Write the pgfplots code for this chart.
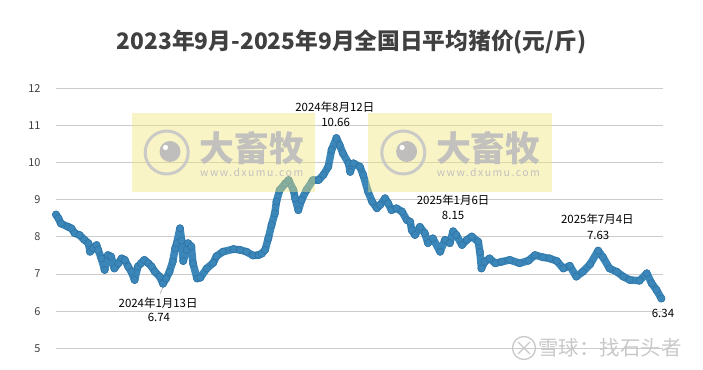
\documentclass[border=0pt]{standalone}
\usepackage{fontspec}
\setmainfont{Noto Sans CJK SC}
\usepackage{pgfplots}
\pgfplotsset{compat=1.18}
\definecolor{ptblue}{RGB}{59,135,186}
\definecolor{ptedge}{RGB}{46,112,160}
\definecolor{gridgray}{RGB}{204,204,204}
\definecolor{ticktext}{RGB}{64,64,64}
\definecolor{titletext}{RGB}{64,64,64}
\definecolor{wmyellow}{RGB}{240,228,120}
\definecolor{wmgray}{RGB}{188,188,188}
\definecolor{xqgray}{RGB}{200,200,200}
\newcommand\wm[1]{%
\begin{scope}[xshift=#1]
\fill[wmyellow, opacity=0.42] (131.7bp,178.3bp) rectangle (315bp,256.7bp);
\draw[wmgray!85, line width=3bp, opacity=0.9] (166.7bp,217.5bp) circle (21.5bp);
\fill[wmgray, opacity=0.95] (170bp,218.5bp) circle (10.5bp);
\fill[white] (165.5bp,222.5bp) circle (2.6bp);
\node[text=wmgray, font=\fontsize{35}{35}\selectfont\bfseries, inner sep=0pt, opacity=0.9] at (251.7bp,221.7bp) {大畜牧};
\node[text=wmgray, font=\fontsize{10.5}{11}\selectfont\addfontfeature{LetterSpace=14}, inner sep=0pt, opacity=0.9] at (251.7bp,197.3bp) {www.dxumu.com};
\end{scope}}
\begin{document}
\begin{tikzpicture}
\path[use as bounding box] (0,0) rectangle (703bp,370bp);
\begin{axis}[
  at={(56bp,21.7bp)}, anchor=south west,
  scale only axis, width=607bp, height=260bp,
  xmin=0, xmax=749, ymin=5, ymax=12,
  xtick=\empty, ytick={5,6,...,12},
  ymajorgrids, grid style={draw=gridgray, line width=0.9bp},
  axis line style={draw=none}, major tick length=0pt,
  yticklabel style={font=\fontsize{11}{13}\selectfont, text=ticktext, xshift=-12bp},
  /pgf/number format/assume math mode=true,
  clip=false,
]
\addplot[line width=7.5bp, color=ptblue, line join=round, line cap=round,
  mark=*, mark size=3.7bp, mark options={fill=ptblue, draw=ptedge, line width=0.5bp}]
table {
0 8.60
3 8.50
6 8.36
15 8.27
19 8.23
23 8.10
29 8.05
35 7.92
40 7.83
42 7.60
46 7.69
50 7.78
52 7.65
56 7.42
60 7.11
64 7.51
68 7.47
72 7.15
77 7.29
81 7.42
85 7.38
89 7.20
93 7.06
97 6.84
101 7.20
105 7.29
109 7.38
114 7.29
118 7.20
122 7.06
128 6.93
132 6.74
136 6.88
140 7.06
144 7.33
147 7.69
149 7.83
153 8.23
155 7.90
157 7.35
161 7.65
163 7.83
167 7.74
169 7.29
174 6.88
178 6.90
186 7.15
194 7.30
198 7.48
206 7.60
219 7.67
227 7.65
235 7.60
243 7.50
250 7.51
254 7.55
258 7.65
262 7.96
266 8.32
270 8.63
272 8.95
276 9.26
283 9.44
287 9.53
293 9.26
295 9.04
299 8.72
303 8.99
309 9.26
317 9.53
324 9.53
330 9.67
336 9.89
340 10.34
346 10.66
350 10.47
354 10.25
361 9.98
363 9.75
367 9.98
375 9.89
379 9.67
385 9.22
390 8.95
396 8.77
400 8.86
406 9.04
410 8.90
414 8.72
420 8.77
427 8.68
433 8.45
437 8.41
439 8.18
443 8.05
449 8.27
455 8.10
459 7.83
465 7.96
474 7.60
480 7.92
486 7.83
490 8.15
494 8.05
501 7.78
507 7.92
513 8.01
521 7.87
523 7.60
525 7.15
529 7.33
535 7.42
542 7.29
550 7.33
560 7.38
572 7.29
583 7.36
591 7.51
601 7.45
609 7.42
618 7.35
626 7.15
634 7.22
642 6.93
650 7.06
659 7.26
669 7.63
675 7.45
683 7.15
692 7.06
700 6.93
708 6.84
720 6.82
729 7.02
735 6.75
741 6.57
747 6.34
};
\draw[gray!70, line width=0.6bp] (axis cs:133,6.68) -- (axis cs:128.5,6.48);
\tikzset{ann/.style={font=\fontsize{11.5}{13}\selectfont, text=black, inner sep=0pt}}
\node[ann] at (axis cs:126,6.22) {2024年1月13日};
\node[ann] at (axis cs:127,5.82) {6.74};
\node[ann] at (axis cs:344,11.50) {2024年8月12日};
\node[ann] at (axis cs:345,11.07) {10.66};
\node[ann] at (axis cs:490,8.99) {2025年1月6日};
\node[ann] at (axis cs:490,8.57) {8.15};
\node[ann] at (axis cs:668,8.47) {2025年7月4日};
\node[ann] at (axis cs:669,8.05) {7.63};
\node[ann] at (axis cs:749,5.94) {6.34};
\end{axis}
\wm{0bp}
\wm{236.6bp}
\node[text=titletext, font=\fontsize{22.8}{26}\selectfont\bfseries, inner sep=0pt] at (351.5bp,328bp) {2023年9月-2025年9月全国日平均猪价(元/斤)};
\draw[xqgray, line width=1.3bp] (524bp,22bp) circle (11.5bp);
\draw[xqgray, line width=1.3bp] (518bp,28bp) -- (524bp,22bp) -- (518bp,16bp);
\draw[xqgray, line width=1.3bp] (530bp,28bp) -- (524bp,22bp) -- (530bp,16bp);
\node[text=xqgray, font=\fontsize{20.5}{22}\selectfont, inner sep=0pt] at (610bp,22bp) {雪球：找石头者};
\end{tikzpicture}
\end{document}
